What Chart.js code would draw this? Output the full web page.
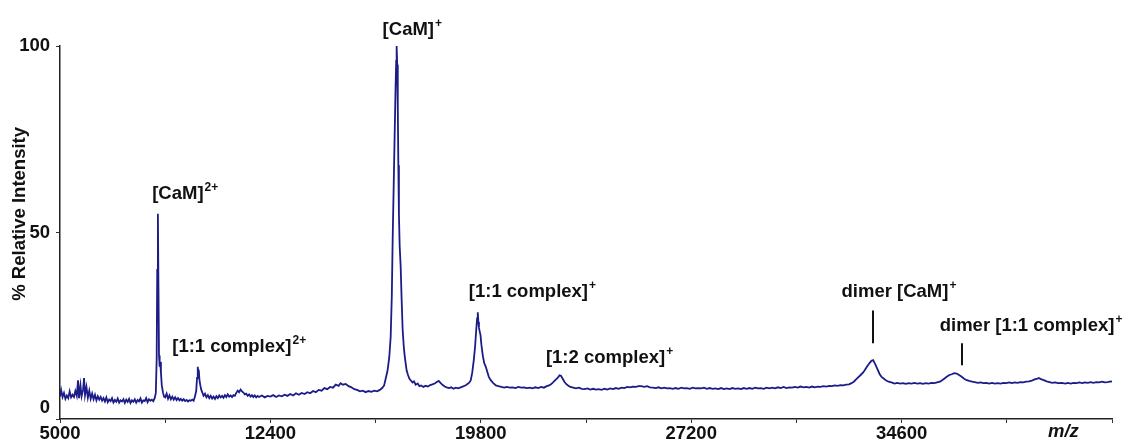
<!DOCTYPE html>
<html>
<head>
<meta charset="utf-8">
<script src="https://cdn.jsdelivr.net/npm/chart.js@4.4.1/dist/chart.umd.min.js"></script>
<style>
html,body{margin:0;padding:0;background:#fff}
#caixa{width:1129px;height:442px;position:relative}
</style>
</head>
<body>
<div id="caixa"><canvas id="espectro"></canvas></div>
<script>

let mzValues=[
5000,5040,5090,5140,5190,5240,5290,5340,5390,5440,
5490,5540,5590,5634,5670,5720,5760,5810,5846,5880,
5930,5980,6030,6080,6130,6180,6230,6280,6330,6380,
6430,6480,6530,6580,6630,6680,6730,6780,6830,6880,
6930,6980,7030,7080,7130,7180,7230,7280,7330,7380,
7430,7480,7530,7580,7630,7680,7730,7780,7830,7880,
7930,7980,8030,8080,8130,8180,8230,8280,8330,8370,
8400,8420,8443,8462,8482,8505,8525,8550,8580,8620,
8660,8700,8750,8800,8850,8900,8950,9000,9050,9100,
9150,9200,9250,9300,9350,9400,9450,9500,9550,9600,
9650,9700,9740,9790,9820,9845,9862,9880,9905,9935,
9970,10010,10050,10100,10150,10200,10250,10300,10350,10400,
10450,10500,10550,10600,10650,10700,10750,10800,10850,10900,
10950,11000,11050,11100,11150,11200,11250,11300,11350,11400,
11450,11500,11550,11600,11650,11700,11750,11800,11850,11900,
11950,12000,12100,12200,12300,12400,12500,12600,12700,12800,
12900,13000,13100,13200,13300,13400,13500,13600,13700,13800,
13900,14000,14100,14200,14300,14400,14500,14600,14700,14800,
14867,14950,15050,15150,15250,15350,15450,15550,15650,15750,
15850,15950,16050,16150,16250,16330,16400,16460,16520,16580,
16630,16670,16700,16740,16770,16800,16825,16840,16860,16880,
16900,16920,16946,16981,17016,17051,17090,17122,17160,17192,
17240,17290,17333,17400,17450,17510,17580,17640,17700,17780,
17860,17940,18020,18100,18180,18250,18320,18390,18460,18530,
18600,18680,18760,18840,18920,19000,19095,19200,19300,19400,
19448,19500,19553,19600,19640,19670,19694,19715,19735,19760,
19790,19820,19870,19920,19976,20030,20082,20150,20230,20329,
20420,20520,20620,20720,20820,20920,21020,21120,21220,21320,
21420,21520,21620,21720,21820,21920,22020,22120,22200,22267,
22340,22420,22500,22570,22620,22680,22740,22800,22870,22950,
23050,23147,23250,23350,23450,23550,23650,23750,23850,23950,
24050,24150,24250,24350,24450,24550,24650,24750,24850,24950,
25050,25150,25250,25350,25438,25550,25650,25750,25850,25950,
26050,26150,26250,26350,26450,26550,26650,26750,26850,26950,
27050,27150,27250,27350,27450,27552,27650,27750,27850,27950,
28050,28150,28250,28350,28450,28550,28650,28750,28850,28950,
29050,29150,29250,29350,29450,29550,29650,29750,29850,29950,
30050,30150,30250,30350,30450,30550,30650,30750,30850,30950,
31050,31150,31250,31350,31450,31550,31650,31750,31850,31950,
32050,32150,32250,32350,32450,32550,32650,32750,32838,32920,
33000,33080,33160,33240,33296,33380,33472,33540,33600,33680,
33754,33830,33895,33980,34060,34142,34240,34353,34450,34550,
34650,34750,34850,34950,35050,35150,35250,35350,35450,35550,
35650,35750,35850,35950,36010,36100,36186,36280,36362,36450,
36538,36620,36714,36800,36890,36980,37080,37172,37280,37380,
37480,37580,37680,37780,37880,37980,38080,38180,38280,38380,
38480,38580,38680,38780,38880,38980,39080,39180,39280,39380,
39428,39500,39600,39700,39800,39900,40000,40100,40238,40350,
40450,40550,40650,40750,40850,40950,41050,41150,41250,41350,
41450,41550,41650,41750,41850,41950,42000
]

let intensityValues=[
6.0,7.8,5.9,7.0,5.4,6.3,5.6,7.4,5.8,6.5,
5.9,7.5,6.2,10.4,5.6,9.0,6.1,7.8,11.0,6.4,
8.6,5.7,7.6,5.4,6.8,5.3,6.5,5.0,6.1,5.2,
5.9,4.9,5.6,4.7,5.8,4.5,5.2,4.8,5.6,4.4,
5.1,4.6,5.5,4.4,5.0,4.7,5.3,4.3,5.2,4.6,
5.4,4.3,5.0,4.6,5.3,4.4,5.1,4.7,5.5,4.4,
5.0,4.8,5.6,4.5,5.3,4.9,5.2,4.8,5.6,7.0,
16,40,55,36,17,14,15.3,12.5,9.0,7.2,
6.0,5.8,6.8,5.4,6.3,5.3,6.0,5.2,5.8,5.1,
5.6,5.0,5.4,4.9,5.3,4.8,5.1,4.7,5.0,4.9,
5.2,4.9,5.8,7.5,11,14.0,12.8,13.2,10.5,9.0,
7.8,7.0,6.2,6.8,5.8,6.4,5.6,6.2,5.5,6.0,
5.4,6.1,5.6,6.3,5.8,6.2,5.7,6.4,5.9,6.6,
6.0,6.3,5.9,6.4,6.2,7.0,7.6,7.2,7.9,7.4,
7.1,6.6,6.8,6.2,6.6,6.0,6.4,5.9,6.3,5.8,
6.2,5.9,6.3,5.8,6.2,6.0,6.4,5.9,6.3,6.1,
6.5,6.2,6.7,6.3,6.9,6.5,7.0,6.7,7.2,6.9,
7.5,7.2,7.8,7.6,8.3,8.0,8.6,8.4,9.2,8.9,
9.6,9.2,9.4,8.8,8.5,8.0,7.8,7.4,7.6,7.2,
7.5,7.3,7.6,7.4,7.8,8.3,9.0,11.0,13.0,16.5,
22,33,48,64,76,88,96,100,95,84,
68,55,46.5,41,32,24,19.5,17,14.8,13,
11.8,10.8,10.4,9.8,10.1,9.2,9.5,8.8,9.0,8.6,
8.9,8.7,9.1,9.3,9.5,9.9,10.2,9.6,9.1,8.7,
8.5,8.3,8.5,8.1,8.4,8.2,8.5,8.8,9.2,9.8,
10.4,12.5,15.8,19.5,24,27,28.6,26,24.5,23.5,
22.5,20,17,15,14,12.6,11.3,10.4,9.7,9.0,
8.8,8.6,8.4,8.6,8.4,8.5,8.3,8.6,8.4,8.5,
8.3,8.4,8.2,8.5,8.3,8.6,8.4,8.8,9.0,9.3,
9.8,10.4,11.0,11.7,11.6,10.8,10.0,9.4,9.0,8.6,
8.4,8.2,8.4,8.1,8.0,8.2,7.9,8.1,7.9,8.0,
7.8,8.1,7.9,8.2,8.0,8.3,8.1,8.4,8.3,8.6,
8.5,8.7,8.6,8.8,8.8,8.6,8.8,8.5,8.4,8.3,
8.5,8.2,8.4,8.2,8.3,8.1,8.3,8.1,8.4,8.2,
8.3,8.1,8.4,8.2,8.3,8.2,8.4,8.1,8.3,8.1,
8.2,8.0,8.3,8.0,8.2,8.0,8.3,8.1,8.2,8.0,
8.3,8.1,8.3,8.1,8.4,8.2,8.3,8.1,8.4,8.2,
8.4,8.2,8.5,8.3,8.6,8.3,8.5,8.4,8.6,8.4,
8.7,8.5,8.6,8.4,8.7,8.5,8.7,8.6,8.8,8.7,
8.9,8.8,9.0,8.9,9.1,9.0,9.2,9.3,9.6,10.0,
10.6,11.2,11.8,12.4,13.0,14.0,15.0,15.6,15.8,14.6,
13.3,12.0,11.3,10.8,10.3,10.0,9.8,9.5,9.7,9.5,
9.6,9.4,9.6,9.5,9.7,9.5,9.6,9.4,9.6,9.5,
9.7,9.6,9.8,10.0,10.3,10.8,11.3,11.8,12.0,12.3,
12.2,11.8,11.3,10.8,10.4,10.2,10.0,9.9,9.7,9.8,
9.6,9.7,9.5,9.7,9.5,9.6,9.5,9.7,9.6,9.8,
9.6,9.8,9.7,9.9,9.8,10.0,10.1,10.3,10.6,10.8,
11.0,10.7,10.4,10.1,9.9,9.7,9.8,9.6,9.7,9.5,
9.7,9.5,9.7,9.6,9.8,9.6,9.8,9.7,9.9,9.7,
9.9,9.8,10.0,9.8,9.9,10.1,10.0
]

let xTicks=[5000,8700,12400,16100,19800,23500,27200,30900,34600,38300,42000]
let xLabels=[5000,12400,19800,27200,34600]
let yTicks=[0,50,100]

let labelText=['[CaM]','[CaM]','[1:1 complex]','[1:1 complex]','[1:2 complex]','dimer [CaM]','dimer [1:1 complex]']
let labelSup=['+','2+','2+','+','+','+','+']
let labelMz=[16347,8242,8947,19377,22090,32486,35940]
let labelIntensity=[103,59,17.9,32.6,15,32.8,23.5]

let markerMz=[33600,36714]
let markerTop=[29.1,20.3]
let markerBottom=[20.3,14.4]

let fonte='"Liberation Sans", Arial, sans-serif'

let anotacoes={
id:'anotacoes',
afterDraw(chart){
let ctx=chart.ctx
let sx=chart.scales.x
let sy=chart.scales.y
ctx.save()
ctx.fillStyle='#111'
ctx.textAlign='left'
ctx.textBaseline='alphabetic'

labelText.forEach((t,i)=>{
let px=sx.getPixelForValue(labelMz[i])
let py=sy.getPixelForValue(labelIntensity[i])
ctx.font=`bold 18.5px ${fonte}`
ctx.fillText(t,px,py)
let w=ctx.measureText(t).width
ctx.font=`bold 12px ${fonte}`
ctx.fillText(labelSup[i],px+w+1,py-8)
})

ctx.strokeStyle='#111'
ctx.lineWidth=2
markerMz.forEach((m,i)=>{
let px=Math.round(sx.getPixelForValue(m))
ctx.beginPath()
ctx.moveTo(px,sy.getPixelForValue(markerTop[i]))
ctx.lineTo(px,sy.getPixelForValue(markerBottom[i]))
ctx.stroke()
})

// titulo eixo y
ctx.save()
ctx.translate(20,sy.getPixelForValue(55))
ctx.rotate(-Math.PI/2)
ctx.textAlign='center'
ctx.textBaseline='middle'
ctx.font=`bold 18.5px ${fonte}`
ctx.fillText('% Relative Intensity',0,0)
ctx.restore()

// titulo eixo x
ctx.font=`italic bold 18.5px ${fonte}`
ctx.fillText('m/z',sx.getPixelForValue(39750),chart.chartArea.bottom+18)

ctx.restore()
}
}

let pontos=mzValues.map((m,i)=>({x:m,y:intensityValues[i]}))

new Chart(document.getElementById('espectro'),{
type:'line',
data:{
datasets:[{
data:pontos,
borderColor:'#1c1c88',
borderWidth:1.8,
pointRadius:0,
tension:0,
fill:false
}]
},
options:{
responsive:true,
maintainAspectRatio:false,
animation:false,
layout:{
padding:{top:46,right:17,left:0,bottom:0}
},
plugins:{
legend:{display:false},
tooltip:{enabled:false}
},
scales:{
x:{
type:'linear',
min:5000,
max:42000,
afterFit(s){
s.height=23
s.paddingLeft=0
s.paddingRight=0
},
afterBuildTicks(s){s.ticks=xTicks.map(v=>({value:v}))},
ticks:{
autoSkip:false,
maxRotation:0,
padding:0,
color:'#111',
font:{family:fonte,size:18.5,weight:'bold'},
callback(v){return xLabels.includes(v)?String(v):''}
},
grid:{
drawOnChartArea:false,
tickLength:4,
color:'#333'
},
border:{
color:'#222',
width:1.5
}
},
y:{
min:0,
max:100,
afterFit(s){
s.width=60
s.paddingTop=0
s.paddingBottom=0
},
afterBuildTicks(s){s.ticks=yTicks.map(v=>({value:v}))},
ticks:{
padding:6,
color:'#111',
font:{family:fonte,size:18.5,weight:'bold'},
callback(v){return v===0?['0','']:String(v)}
},
grid:{
drawOnChartArea:false,
tickLength:4,
color:'#333'
},
border:{
color:'#222',
width:1.5
}
}
}
},
plugins:[anotacoes]
})

</script>
</body>
</html>
